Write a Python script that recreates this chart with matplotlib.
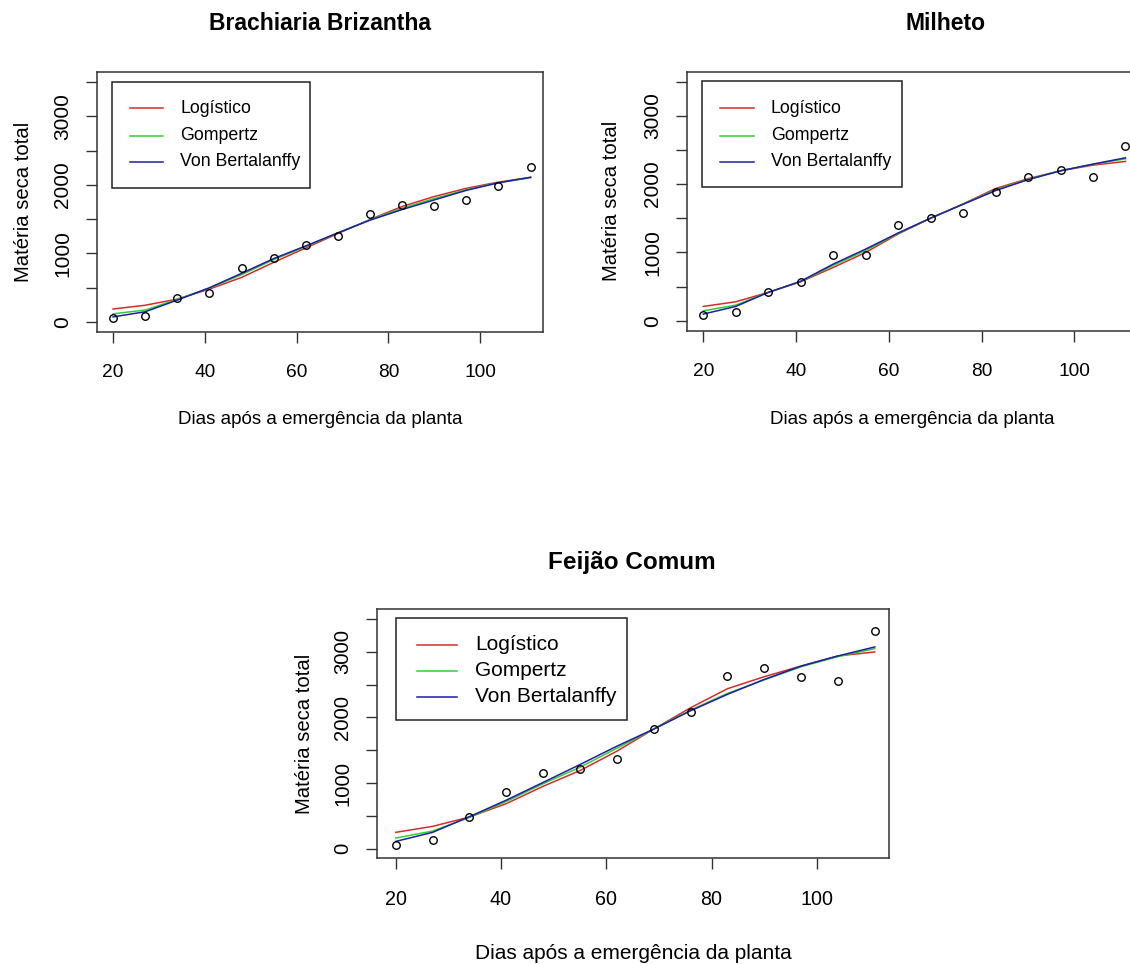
import matplotlib
matplotlib.use("Agg")
import matplotlib.pyplot as plt
from matplotlib.lines import Line2D
from matplotlib.patches import Rectangle

plt.rcParams['font.family'] = ['Liberation Sans', 'DejaVu Sans']

# ---------------- data ----------------
dias = [20, 27, 34, 41, 48, 55, 62, 69, 76, 83, 90, 97, 104, 111]

brach_obs = [58, 83, 356, 429, 785, 932, 1117, 1254, 1580, 1702, 1698, 1776, 1976, 2263]
brach_log = [190, 245, 335, 480, 650, 870, 1080, 1290, 1495, 1685, 1830, 1950, 2040, 2110]
brach_gom = [120, 175, 330, 495, 690, 910, 1100, 1300, 1490, 1660, 1800, 1930, 2030, 2105]
brach_vb = [75, 150, 320, 500, 710, 925, 1110, 1300, 1485, 1640, 1780, 1920, 2030, 2110]

milh_obs = [83, 132, 415, 571, 956, 956, 1405, 1502, 1580, 1878, 2098, 2205, 2107, 2551]
milh_log = [210, 278, 415, 571, 780, 1000, 1270, 1500, 1710, 1935, 2080, 2195, 2278, 2332]
milh_gom = [146, 229, 415, 575, 810, 1030, 1278, 1502, 1707, 1915, 2070, 2195, 2290, 2370]
milh_vb = [98, 210, 415, 578, 829, 1049, 1285, 1502, 1705, 1905, 2065, 2195, 2293, 2385]

feij_obs = [61, 127, 488, 865, 1149, 1216, 1373, 1821, 2085, 2629, 2752, 2609, 2548, 3316]
feij_log = [250, 341, 483, 687, 951, 1190, 1485, 1821, 2146, 2436, 2619, 2782, 2935, 2996]
feij_gom = [163, 270, 478, 720, 990, 1240, 1530, 1821, 2110, 2365, 2570, 2770, 2925, 3047]
feij_vb = [112, 250, 488, 740, 1010, 1282, 1561, 1821, 2100, 2350, 2578, 2780, 2935, 3072]

titles = ["Brachiaria Brizantha", "Milheto", "Feijão Comum"]
model_names = ["Logístico", "Gompertz", "Von Bertalanffy"]
xlabel = "Dias após a emergência da planta"
ylabel = "Matéria seca total"
xticks = [20, 40, 60, 80, 100]
yticks = [0, 500, 1000, 1500, 2000, 2500, 3000, 3500]
ytick_labels = ["0", "", "1000", "", "2000", "", "3000", ""]

colors = ["#DC2A2A", "#2ED22E", "#1E1EA8"]

W, H = 1130, 964
fig = plt.figure(figsize=(W / 100, H / 100), dpi=100)


def fx(x):
    return x / W


def fy(y):
    return 1 - y / H


def px_axes(left, top, right, bottom):
    return fig.add_axes([fx(left), fy(bottom), (right - left) / W, (bottom - top) / H])


panels = [
    dict(box=(97, 72, 543, 332), obs=brach_obs, fits=[brach_log, brach_gom, brach_vb],
         title_xy=(320, 23.5), title_fs=16.5, xtick_fs=13.8, ytick_fs=15,
         xlab_fs=13.5, ylab_fs=14.6, xlab_y=-0.335, ylab_x=-0.1637,
         leg=dict(box=(112.3, 81.7, 310, 187.7), line=(130, 163.3), tx=180,
                  rows=(108.3, 135.5, 161.7), fs=12.8)),
    dict(box=(687, 71.7, 1138, 330.7), obs=milh_obs, fits=[milh_log, milh_gom, milh_vb],
         title_xy=(946, 23.5), title_fs=16.5, xtick_fs=13.8, ytick_fs=15,
         xlab_fs=13.5, ylab_fs=14.6, xlab_y=-0.341, ylab_x=-0.1685,
         leg=dict(box=(702.3, 81, 902.3, 187.3), line=(720, 754), tx=770.7,
                  rows=(108.3, 135.5, 161.7), fs=12.8)),
    dict(box=(377.3, 609.3, 889, 858.3), obs=feij_obs, fits=[feij_log, feij_gom, feij_vb],
         title_xy=(632, 562.5), title_fs=17.5, xtick_fs=14.2, ytick_fs=14.6,
         xlab_fs=15, ylab_fs=14.6, xlab_y=-0.384, ylab_x=-0.143,
         leg=dict(box=(396, 618.3, 627, 720), line=(416.5, 456.5), tx=475,
                  rows=(645, 670.5, 696.7), fs=15)),
]

for i, p in enumerate(panels):
    ax = px_axes(*p["box"])
    for fit, c, name in zip(p["fits"], colors, model_names):
        ax.plot(dias, fit, color=c, lw=1.1, label=name)
    ax.plot(dias, p["obs"], linestyle="none", marker="o", markersize=5.4,
            markerfacecolor="none", markeredgecolor="black", markeredgewidth=1.0)
    ax.set_xlim(16.5, 113.7)
    ax.set_ylim(-145, 3645)
    ax.set_xticks(xticks)
    ax.set_xticklabels([str(t) for t in xticks])
    ax.set_yticks(yticks)
    ax.set_yticklabels(ytick_labels)
    ax.tick_params(axis="both", direction="out", length=8, width=1, colors="#333333",
                   labelcolor="black")
    ax.tick_params(axis="x", pad=15, labelsize=p["xtick_fs"])
    ax.tick_params(axis="y", pad=10, labelsize=p["ytick_fs"])
    for lab in ax.get_yticklabels():
        lab.set_rotation(90)
        lab.set_verticalalignment("center")
        lab.set_horizontalalignment("right")
    for s in ax.spines.values():
        s.set_color("#333333")
        s.set_linewidth(1.1)
    ax.set_xlabel(xlabel, fontsize=p["xlab_fs"], va="center")
    ax.xaxis.set_label_coords(0.5, p["xlab_y"])
    ax.set_ylabel(ylabel, fontsize=p["ylab_fs"], va="center")
    ax.yaxis.set_label_coords(p["ylab_x"], 0.5)

    # legend drawn as a framed key, like R's legend()
    lg = p["leg"]
    bl, bt, br, bb = lg["box"]
    fig.add_artist(Rectangle((fx(bl), fy(bb)), (br - bl) / W, (bb - bt) / H,
                             transform=fig.transFigure, facecolor="white",
                             edgecolor="#222222", linewidth=1.1, zorder=5))
    for name, c, ry in zip(model_names, colors, lg["rows"]):
        fig.add_artist(Line2D([fx(lg["line"][0]), fx(lg["line"][1])], [fy(ry), fy(ry)],
                              transform=fig.transFigure, color=c, lw=1.1, zorder=6))
        fig.text(fx(lg["tx"]), fy(ry), name, ha="left", va="center",
                 fontsize=lg["fs"], zorder=6)

    tx, ty = p["title_xy"]
    fig.text(fx(tx), fy(ty), titles[i], ha="center", va="center",
             fontsize=p["title_fs"], fontweight="bold")

fig.savefig("out.png", dpi=100, facecolor="white")
